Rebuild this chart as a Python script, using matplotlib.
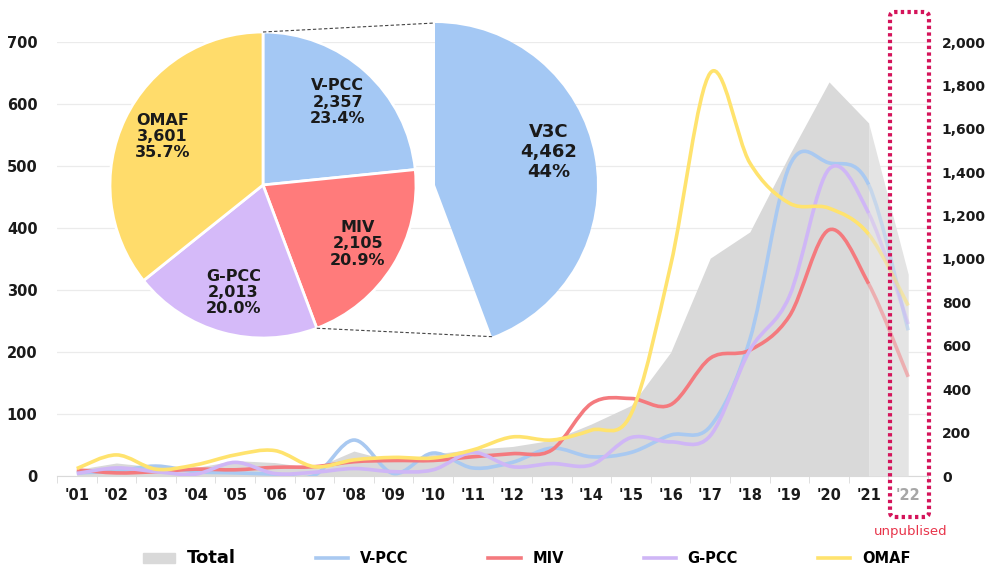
import matplotlib
matplotlib.use('Agg')
import numpy as np
import matplotlib.pyplot as plt
from matplotlib.path import Path
from matplotlib.patches import PathPatch, Wedge, FancyBboxPatch, Patch
from matplotlib.lines import Line2D

plt.rcParams['font.family'] = ['DejaVu Sans']
plt.rcParams['font.weight'] = 'bold'

# yearly counts (lines on left axis, total area on right axis)
years = ["'01", "'02", "'03", "'04", "'05", "'06", "'07", "'08", "'09", "'10", "'11",
         "'12", "'13", "'14", "'15", "'16", "'17", "'18", "'19", "'20", "'21", "'22"]
total = [30, 60, 41, 39, 71, 62, 37, 115, 67, 101, 123, 136, 165, 240, 325, 570,
         1004, 1125, 1480, 1816, 1627, 930]
vpcc = [5, 8, 16, 7, 5, 3, 1, 58, 4, 37, 13, 22, 45, 31, 38, 66, 80, 220, 500, 505, 470, 235]
miv = [10, 5, 7, 11, 10, 14, 15, 23, 25, 25, 31, 36, 42, 117, 125, 115, 190, 203, 258, 397, 310, 160]
gpcc = [4, 13, 7, 3, 22, 4, 6, 12, 7, 10, 38, 15, 20, 18, 62, 55, 65, 203, 290, 495, 424, 245]
omaf = [12, 34, 11, 18, 34, 41, 15, 26, 30, 29, 42, 63, 58, 74, 100, 340, 650, 505, 440, 432, 390, 275]

# pie inset
pie_names = ['V-PCC', 'MIV', 'G-PCC', 'OMAF']
pie_values = [2357, 2105, 2013, 3601]
v3c_value = 4462
v3c_pct = '44%'

c_total = '#d9d9d9'
c_line = {'V-PCC': '#a9c9f1', 'MIV': '#f47a7e', 'G-PCC': '#cfb6f6', 'OMAF': '#ffe36e'}
c_pie = {'V-PCC': '#a4c8f4', 'MIV': '#ff7b7b', 'G-PCC': '#d5baf9', 'OMAF': '#ffdc6b'}
txt = '#1a1a1a'


def smooth_segments(xs, ys, start, stop):
    # excel-like smoothed line: bezier segments through the data points
    pts = np.column_stack([xs, ys]).astype(float)
    n = len(pts)
    verts = [pts[start]]
    codes = [Path.MOVETO]
    for i in range(start, stop):
        p0 = pts[max(i - 1, 0)]
        p1, p2 = pts[i], pts[i + 1]
        p3 = pts[min(i + 2, n - 1)]
        verts += [p1 + (p2 - p0) / 6, p2 - (p3 - p1) / 6, p2]
        codes += [Path.CURVE4] * 3
    return Path(verts, codes)


fig = plt.figure(figsize=(9.92, 5.66), dpi=100)
ax = fig.add_axes([57 / 992, 1 - 476 / 566, (928 - 57) / 992, (476 - 42) / 566])
ax2 = ax.twinx()

x = np.arange(len(years))
ax.set_xlim(-0.5, len(years) - 0.5)
ax.set_ylim(0, 700)
ax2.set_ylim(0, 2000)

ax.set_yticks(range(0, 701, 100))
ax.yaxis.grid(True, color='#ebebeb', lw=0.9)
ax.set_axisbelow(True)
ax2.set_yticks(range(0, 2001, 200))
ax2.set_yticklabels([f'{v:,}' for v in range(0, 2001, 200)])

for a in (ax, ax2):
    for s in a.spines.values():
        s.set_visible(False)
ax.tick_params(axis='y', length=0, labelsize=10.5, labelcolor=txt, pad=14)
ax2.tick_params(axis='y', length=0, labelsize=10, labelcolor=txt, pad=10)
ax.spines['bottom'].set_visible(True)
ax.spines['bottom'].set_color('#d9d9d9')

ax.set_xticks(x)
ax.set_xticklabels(years)
ax.set_xticks(np.arange(-0.5, len(years), 1), minor=True)
ax.tick_params(axis='x', which='major', length=0, labelsize=10.5, labelcolor=txt, pad=9)
ax.tick_params(axis='x', which='minor', length=5, color='#d9d9d9')
ax.get_xticklabels()[-1].set_color('#a6a6a6')
ax2.tick_params(axis='x', length=0)

# total area (right axis)
ax2.fill_between(x[:-1], total[:-1], color=c_total, lw=0)
ax2.fill_between(x[-2:], total[-2:], color='#e4e4e4', lw=0)

# smoothed lines, drawn on top of the area but in left-axis units
for name, vals in [('V-PCC', vpcc), ('MIV', miv), ('G-PCC', gpcc), ('OMAF', omaf)]:
    solid = PathPatch(smooth_segments(x, vals, 0, len(x) - 2), fill=False,
                      edgecolor=c_line[name], lw=2.6, transform=ax.transData)
    faded = PathPatch(smooth_segments(x, vals, len(x) - 2, len(x) - 1), fill=False,
                      edgecolor=c_line[name], lw=2.6, alpha=0.5, transform=ax.transData)
    ax2.add_patch(solid)
    ax2.add_patch(faded)
ax2.set_ylim(0, 2000)

# overlay in pixel units for pie, wedge, box and notes
ov = fig.add_axes([0, 0, 1, 1], zorder=10)
ov.patch.set_visible(False)
pc = (263, 566 - 185)
pr = 153
wedges, _ = ov.pie(pie_values, colors=[c_pie[n] for n in pie_names], startangle=90,
                   counterclock=False, center=pc, radius=pr,
                   wedgeprops=dict(edgecolor='white', linewidth=2))
tot = sum(pie_values)
for w, name, val in zip(wedges, pie_names, pie_values):
    mid = np.deg2rad((w.theta1 + w.theta2) / 2)
    ov.text(pc[0] + 0.73 * pr * np.cos(mid), pc[1] + 0.73 * pr * np.sin(mid),
            f'{name}\n{val:,}\n{val / tot * 100:.1f}%', ha='center', va='center',
            fontsize=11.5, color=txt, linespacing=1.1)

wc = (435, 566 - 185)
wr = 162
th1 = 90 - 360 * v3c_value / tot
ov.add_patch(Wedge(wc, wr, th1, 90, facecolor=c_pie['V-PCC'], edgecolor='none'))
mid = np.deg2rad(th1 + (90 - th1) / 2 + 6)
ov.text(wc[0] + 0.73 * wr * np.cos(mid), wc[1] + 0.73 * wr * np.sin(mid),
        f'V3C\n{v3c_value:,}\n{v3c_pct}', ha='center', va='center', fontsize=13,
        color=txt, linespacing=1.15)

# connectors between pie and exploded V3C wedge
b = np.deg2rad(wedges[1].theta1)
ov.plot([pc[0], wc[0]], [pc[1] + pr, wc[1] + wr], color='#444444', lw=0.8, ls=(0, (3, 2)))
ov.plot([pc[0] + pr * np.cos(b), wc[0] + wr * np.cos(np.deg2rad(th1))],
        [pc[1] + pr * np.sin(b), wc[1] + wr * np.sin(np.deg2rad(th1))],
        color='#444444', lw=0.8, ls=(0, (3, 2)))

ov.add_patch(FancyBboxPatch((890, 566 - 517), 39, 505, boxstyle='round,pad=0,rounding_size=5',
                            fill=False, edgecolor='#d4145a', lw=3, ls=(0, (0.8, 0.8))))
ov.text(911, 566 - 532, 'unpublised', ha='center', va='center', fontsize=9.5,
        color='#e8344a', fontweight='normal')
ov.set_xlim(0, 992)
ov.set_ylim(0, 566)
ov.axis('off')

handles = [Patch(color=c_total)] + [Line2D([], [], color=c_line[n], lw=2.6) for n in pie_names]
leg = fig.legend(handles, ['Total'] + pie_names, loc='lower center', ncol=5, frameon=False,
                 bbox_to_anchor=(0.531, -0.025), handlelength=2.2, columnspacing=5.5,
                 prop={'size': 10.5, 'weight': 'bold'})
leg.get_texts()[0].set_fontsize(13)

fig.savefig('out.png', dpi=100)
